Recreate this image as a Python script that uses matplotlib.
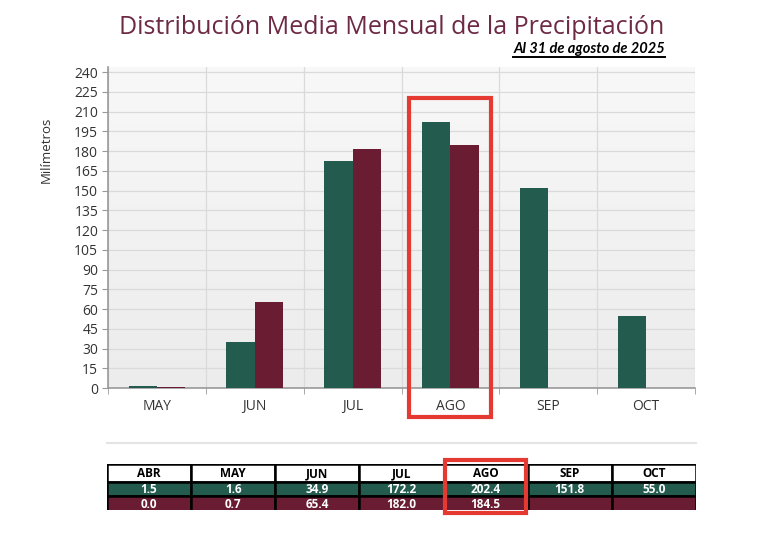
import numpy as np
import matplotlib
matplotlib.use("Agg")
import matplotlib.pyplot as plt
from matplotlib.patches import Rectangle
from matplotlib.lines import Line2D

# chart data
months = ["MAY", "JUN", "JUL", "AGO", "SEP", "OCT"]
media = [1.6, 34.9, 172.2, 202.4, 151.8, 55.0]
actual = [0.7, 65.4, 182.0, 184.5, np.nan, np.nan]
yticks = list(range(0, 241, 15))

# table data
tab_months = ["ABR", "MAY", "JUN", "JUL", "AGO", "SEP", "OCT"]
tab_media = ["1.5", "1.6", "34.9", "172.2", "202.4", "151.8", "55.0"]
tab_actual = ["0.0", "0.7", "65.4", "182.0", "184.5", "", ""]

GREEN = "#235B4E"
MAROON = "#691C32"
RED = "#E53A32"

W, H = 770, 553
fig = plt.figure(figsize=(W / 100, H / 100), dpi=100)
fig.patch.set_facecolor("white")


def fx(px):
    return px / W


def fy(py):
    return 1 - py / H


# main axes
ax = fig.add_axes([fx(108), fy(388), fx(695) - fx(108), fy(67) - fy(388)])
ax.set_xlim(-0.5, 5.5)
ax.set_ylim(0, 244)

# soft gray gradient background
grad = np.linspace(0, 1, 100).reshape(-1, 1)
ax.imshow(grad, extent=(-0.5, 5.5, 0, 244), aspect="auto", origin="lower",
          cmap=matplotlib.colors.LinearSegmentedColormap.from_list("bg", ["#ececec", "#f8f8f8"]),
          zorder=0)

x = np.arange(len(months))
bw = 0.29
ax.bar(x - bw / 2, media, bw, color=GREEN, zorder=3)
ax.bar(x + bw / 2, actual, bw, color=MAROON, zorder=3)

ax.set_yticks(yticks)
ax.set_xticks(x)
ax.set_xticklabels(months)
ax.set_xticks(np.arange(-0.5, 6.0, 1.0), minor=True)
ax.grid(axis="y", color="#dadada", lw=0.9, zorder=1)
ax.grid(axis="x", which="minor", color="#dadada", lw=0.9, zorder=1)
ax.tick_params(axis="x", which="major", length=0, pad=8, labelsize=10, labelcolor="#333333")
ax.tick_params(axis="x", which="minor", length=4, color="#999999", direction="out")
ax.tick_params(axis="y", length=4, color="#999999", labelsize=10, labelcolor="#333333", pad=3)
for lab in ax.get_xticklabels() + ax.get_yticklabels():
    lab.set_fontfamily("Open Sans")
for s in ["top", "right"]:
    ax.spines[s].set_visible(False)
ax.spines["left"].set_color("#999999")
ax.spines["bottom"].set_color("#999999")
ax.spines["left"].set_linewidth(1.2)
ax.spines["bottom"].set_linewidth(1.2)

fig.text(fx(46), fy(150), "Milímetros", rotation=90, ha="center", va="center",
         fontsize=9.5, color="#333333", family="Open Sans")

# title and subtitle
fig.text(fx(392), fy(28), "Distribución Media Mensual de la Precipitación", ha="center",
         va="center", fontsize=18, color="#6E2A45", family="Open Sans")
sub = fig.text(fx(665), fy(49), "Al 31 de agosto de 2025", ha="right", va="center",
               fontsize=10.5, fontweight="bold", fontstyle="italic", color="black", family="Lato")
fig.canvas.draw()
bb = sub.get_window_extent()
fig.add_artist(Line2D([bb.x0 / W, bb.x1 / W], [(bb.y0 - 1) / H, (bb.y0 - 1) / H],
                      color="black", lw=1.4))

# separator line
fig.add_artist(Line2D([fx(107), fx(696)], [fy(443), fy(443)], color="#e4e4e4", lw=1.5))

# data table
tax = fig.add_axes([fx(107), fy(510), fx(696) - fx(107), fy(464) - fy(510)])
tax.set_xlim(0, 7)
tax.set_ylim(46, 0)
tax.axis("off")
rows = [(0, 18, "white", "black", tab_months),
        (18, 32, GREEN, "white", tab_media),
        (32, 49, MAROON, "white", tab_actual)]
for y0, y1, bg, fg, vals in rows:
    for i, v in enumerate(vals):
        tax.add_patch(Rectangle((i, y0), 1, y1 - y0, facecolor=bg, edgecolor="black",
                                lw=1.8, clip_on=True))
        tax.text(i + 0.5, (y0 + y1) / 2 + 0.5, v, ha="center", va="center", color=fg,
                 fontsize=8.5, fontweight="bold", family="Open Sans", clip_on=True)

# red highlight boxes
fig.add_artist(Rectangle((fx(409), fy(417)), fx(491) - fx(409), fy(98) - fy(417),
                         transform=fig.transFigure, fill=False, edgecolor=RED, lw=3))
fig.add_artist(Rectangle((fx(445), fy(513)), fx(526) - fx(445), fy(460) - fy(513),
                         transform=fig.transFigure, fill=False, edgecolor=RED, lw=3))

fig.savefig("out.png", dpi=100)
